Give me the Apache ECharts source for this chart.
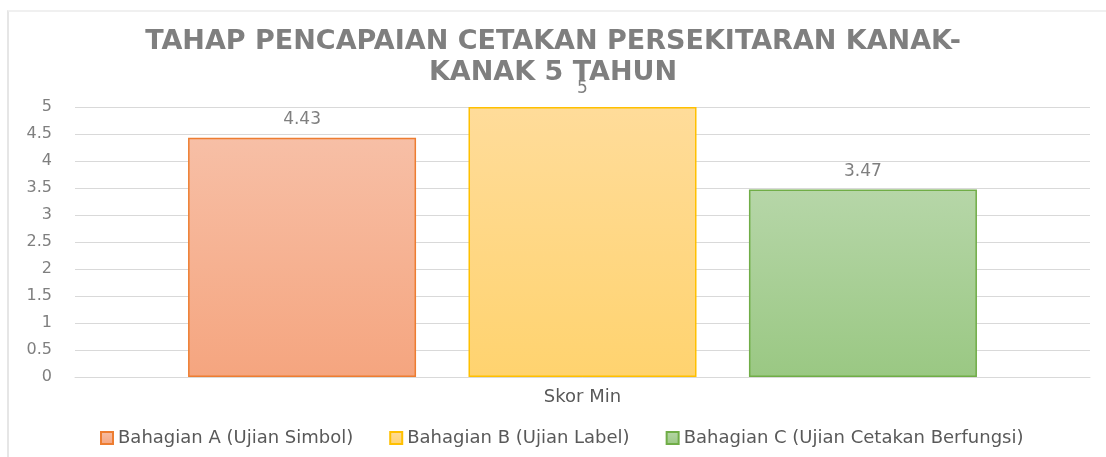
<!DOCTYPE html>
<html lang="en">

<head>
  <meta charset="UTF-8">
  <title>Tahap Pencapaian</title>
  <script src="https://cdn.jsdelivr.net/npm/echarts@6.0.0/dist/echarts.min.js"></script>
  <style>
    body { margin: 0; background: #fff; overflow: hidden; }
    #main { position: absolute; left: 0; top: 0; width: 1106px; height: 457px; }
    #frame { position: absolute; left: 7px; top: 10px; width: 1097px; height: 445px;
      border-left: 2px solid #e6e6e6; border-top: 2px solid #f0f0f0; pointer-events: none; }
  </style>
</head>

<body>
  <div id="main"></div>
  <div id="frame"></div>

  <script type="text/javascript">
    // Chart data
    const categories = ['Skor Min'];
    const seriesNames = [
      'Bahagian A (Ujian Simbol)',
      'Bahagian B (Ujian Label)',
      'Bahagian C (Ujian Cetakan Berfungsi)'
    ];
    const seriesValues = [[4.43], [5], [3.47]];
    const yTicks = [0, 0.5, 1, 1.5, 2, 2.5, 3, 3.5, 4, 4.5, 5];

    // Excel-like fills: [top colour, bottom colour, border]
    const fills = [
      ['#f7bfa6', '#f5a57f', '#ed7d31'],
      ['#ffdc9a', '#ffd36f', '#ffc000'],
      ['#b6d6a8', '#9ac883', '#70ad47']
    ];

    // the reference text is wide, DejaVu is the closest width
    const fontFam = '"DejaVu Sans", sans-serif';
    let myChart = echarts.init(document.getElementById('main'));

    const series = seriesNames.map((name, i) => ({
      name: name,
      type: 'bar',
      data: seriesValues[i],
      barWidth: 228,
      barGap: '23%',
      itemStyle: {
        color: new echarts.graphic.LinearGradient(0, 0, 0, 1, [
          { offset: 0, color: fills[i][0] },
          { offset: 1, color: fills[i][1] }
        ]),
        borderColor: fills[i][2],
        borderWidth: 1.5
      },
      label: {
        show: true,
        position: 'top',
        distance: 10,
        color: '#7f7f7f',
        fontFamily: fontFam,
        fontSize: 17
      }
    }));

    const options = {
      animation: false,
      title: {
        text: 'TAHAP PENCAPAIAN CETAKAN PERSEKITARAN KANAK-\nKANAK 5 TAHUN',
        left: 'center',
        top: 21,
        textStyle: {
          color: '#7f7f7f',
          fontFamily: fontFam,
          fontWeight: 'bold',
          fontSize: 27,
          lineHeight: 31
        }
      },
      grid: { left: 75, right: 16, top: 107, bottom: 80, containLabel: false },
      legend: {
        left: 95,
        top: 424,
        itemWidth: 12,
        itemHeight: 12,
        itemGap: 36,
        icon: 'rect',
        textStyle: { color: '#595959', fontFamily: fontFam, fontSize: 18 },
        data: seriesNames
      },
      xAxis: {
        type: 'category',
        data: categories,
        axisTick: { show: false },
        axisLine: { lineStyle: { color: '#d9d9d9', width: 1 } },
        axisLabel: { color: '#595959', fontFamily: fontFam, fontSize: 18, margin: 11 }
      },
      yAxis: {
        type: 'value',
        min: yTicks[0],
        max: yTicks[yTicks.length - 1],
        interval: 0.5,
        axisLine: { show: false },
        axisTick: { show: false },
        splitLine: { lineStyle: { color: '#d9d9d9', width: 1 } },
        axisLabel: { color: '#7f7f7f', fontFamily: fontFam, fontSize: 16, margin: 23 }
      },
      series: series
    };

    myChart.setOption(options);
  </script>
</body>

</html>
